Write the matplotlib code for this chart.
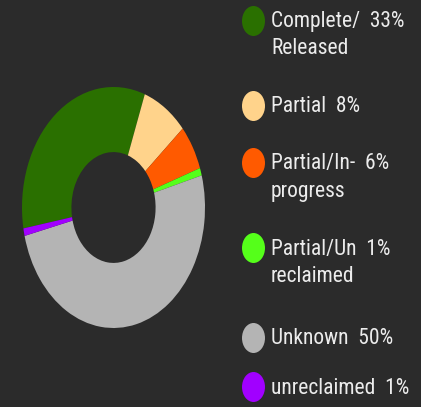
import matplotlib.pyplot as plt
from matplotlib.patches import Ellipse

BG = "#2b2b2b"
W, H = 421, 407

labels = ["Complete/\nReleased", "Partial", "Partial/In-\nprogress",
          "Partial/Un\nreclaimed", "Unknown", "unreclaimed"]
values = [33, 8, 6, 1, 50, 1]
colors = ["#2a7000", "#ffd38b", "#ff5a00", "#55ff1a", "#b4b4b4", "#a100ff"]

FONT = ["Roboto Condensed", "DejaVu Sans"]

fig = plt.figure(figsize=(W / 100, H / 100), dpi=100, facecolor=BG)

# donut is stretched vertically in the reference
ax = fig.add_axes([22 / W, (H - 328) / H, 183 / W, 241 / H])
ax.set_facecolor(BG)
ax.pie(values, colors=colors, startangle=190, counterclock=False,
       wedgeprops=dict(width=0.54, linewidth=0))
ax.set_aspect("auto")
ax.set_xlim(-1, 1)
ax.set_ylim(-1, 1)
ax.axis("off")

# legend
ys = [21, 106, 163, 248, 338, 387]
for lab, v, c, y in zip(labels, values, colors, ys):
    lines = lab.split("\n")
    first = lines[0] + "  " + f"{v}%"
    e = Ellipse((253.5 / W, 1 - y / H), 23 / W, 30 / H, transform=fig.transFigure,
                facecolor=c, edgecolor="none")
    fig.patches.append(e)
    fig.text(271 / W, 1 - (y + 1) / H, first, color="#ececec", fontsize=15.5,
             family=FONT, weight="normal", va="center", ha="left")
    if len(lines) > 1:
        fig.text(271 / W, 1 - (y + 28) / H, lines[1], color="#ececec",
                 fontsize=15.5, family=FONT, weight="normal", va="center", ha="left")

fig.savefig("out.png", dpi=100, facecolor=BG)
